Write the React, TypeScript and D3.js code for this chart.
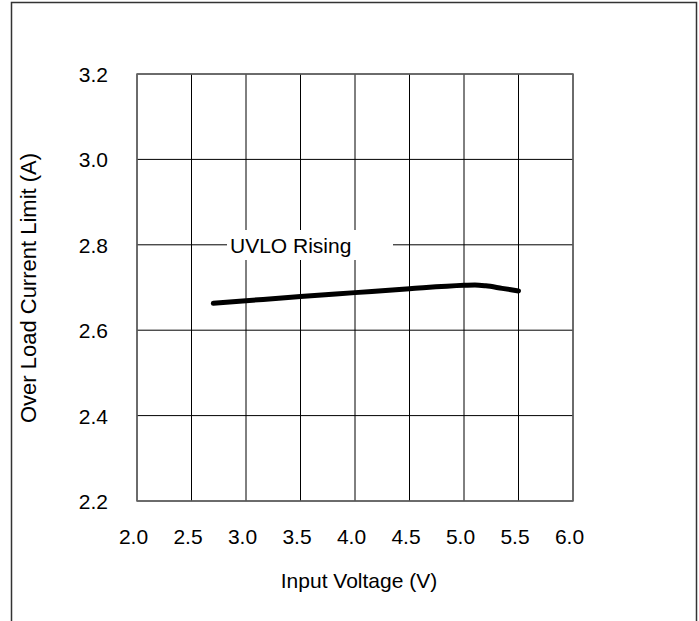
import * as d3 from 'd3';
import React, { useRef, useEffect } from 'react';

const xTicks = [2.0, 2.5, 3.0, 3.5, 4.0, 4.5, 5.0, 5.5, 6.0];
const yTicks = [2.2, 2.4, 2.6, 2.8, 3.0, 3.2];

const voltage = [2.7, 3.0, 3.5, 4.0, 4.5, 5.0, 5.1, 5.2, 5.35, 5.5];
const currentLimit = [2.663, 2.669, 2.679, 2.688, 2.697, 2.705, 2.706, 2.704, 2.698, 2.692];

const seriesLabel = 'UVLO Rising';

const plot = { left: 137, top: 74, right: 573, bottom: 501 };
const font = 'Arial, "Liberation Sans", Helvetica, sans-serif';
const fs = 21;

const App = () => {
  const ref = useRef<SVGSVGElement>(null);

  useEffect(() => {
    if (!ref.current) return;
    const svg = d3.select(ref.current);
    svg.selectAll('*').remove();

    const x = d3.scaleLinear().domain([2.0, 6.0]).range([plot.left, plot.right]);
    const y = d3.scaleLinear().domain([2.2, 3.2]).range([plot.bottom, plot.top]);

    // outer frame, open at the bottom
    svg
      .append('path')
      .attr('d', 'M11.5,621 V2.5 H696.5 V621')
      .attr('fill', 'none')
      .attr('stroke', '#333')
      .attr('stroke-width', 1.5);

    const grid = svg.append('g');
    grid
      .selectAll('line.v')
      .data(xTicks)
      .enter()
      .append('line')
      .attr('x1', (d) => x(d))
      .attr('x2', (d) => x(d))
      .attr('y1', plot.top)
      .attr('y2', plot.bottom)
      .attr('stroke', '#000')
      .attr('stroke-width', 1);
    grid
      .selectAll('line.h')
      .data(yTicks)
      .enter()
      .append('line')
      .attr('x1', plot.left)
      .attr('x2', plot.right)
      .attr('y1', (d) => y(d))
      .attr('y2', (d) => y(d))
      .attr('stroke', '#000')
      .attr('stroke-width', 1);

    svg
      .append('rect')
      .attr('x', plot.left)
      .attr('y', plot.top)
      .attr('width', plot.right - plot.left)
      .attr('height', plot.bottom - plot.top)
      .attr('fill', 'none')
      .attr('stroke', '#666')
      .attr('stroke-width', 1.5);

    // legend label with white backing
    svg
      .append('rect')
      .attr('x', 227)
      .attr('y', 230)
      .attr('width', 166)
      .attr('height', 30)
      .attr('fill', '#fff');
    svg
      .append('text')
      .attr('x', 230)
      .attr('y', 253)
      .attr('font-family', font)
      .attr('font-size', fs)
      .text(seriesLabel);

    const line = d3
      .line<number>()
      .x((_, i) => x(voltage[i]))
      .y((d) => y(d))
      .curve(d3.curveMonotoneX);

    svg
      .append('path')
      .datum(currentLimit)
      .attr('d', line)
      .attr('fill', 'none')
      .attr('stroke', '#000')
      .attr('stroke-width', 5)
      .attr('stroke-linecap', 'round');

    svg
      .append('g')
      .selectAll('text')
      .data(xTicks)
      .enter()
      .append('text')
      .attr('x', (d) => x(d) - 3.5)
      .attr('y', 544)
      .attr('text-anchor', 'middle')
      .attr('font-family', font)
      .attr('font-size', fs)
      .text((d) => d.toFixed(1));

    svg
      .append('g')
      .selectAll('text')
      .data(yTicks)
      .enter()
      .append('text')
      .attr('x', 108)
      .attr('y', (d) => y(d) + 8)
      .attr('text-anchor', 'end')
      .attr('font-family', font)
      .attr('font-size', fs)
      .text((d) => d.toFixed(1));

    svg
      .append('text')
      .attr('x', 359)
      .attr('y', 588)
      .attr('text-anchor', 'middle')
      .attr('font-family', font)
      .attr('font-size', fs)
      .text('Input Voltage (V)');

    svg
      .append('text')
      .attr('transform', 'translate(36, 288) rotate(-90)')
      .attr('text-anchor', 'middle')
      .attr('font-family', font)
      .attr('font-size', 22)
      .text('Over Load Current Limit (A)');
  }, []);

  return (
    <svg
      ref={ref}
      width={699}
      height={621}
      style={{ position: 'absolute', left: 0, top: 0, background: '#fff' }}
    />
  );
};

export default App;
